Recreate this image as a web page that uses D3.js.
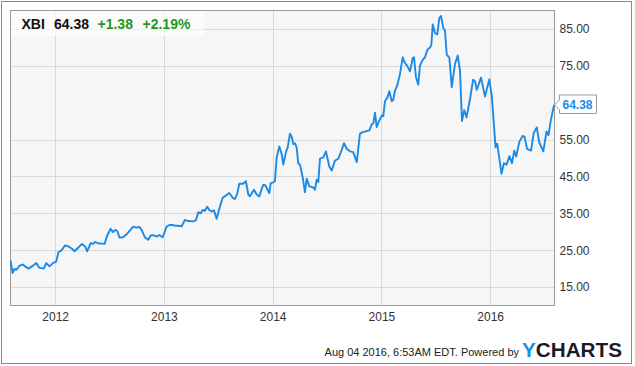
<!DOCTYPE html>
<html>
<head>
<meta charset="utf-8">
<script src="https://cdn.jsdelivr.net/npm/d3@7"></script>
<style>
  body { margin: 0; background: #fff; }
  svg text { font-family: "Liberation Sans", Arial, sans-serif; }
</style>
</head>
<body>
<div id="chart"></div>
<script>
// XBI, 5 ans de cours (temps en années décimales)
const ticker = "XBI";
const lastPrice = 64.38;
const change = "+1.38";
const changePct = "+2.19%";
const stamp = "Aug 04 2016, 6:53AM EDT.";

const tYear = [
  2011.590, 2011.608, 2011.626, 2011.645, 2011.672, 2011.703, 2011.733, 2011.755, 2011.786, 2011.825,
  2011.856, 2011.896, 2011.917, 2011.948, 2011.979, 2012.009, 2012.031, 2012.055, 2012.092, 2012.123,
  2012.154, 2012.178, 2012.209, 2012.246, 2012.276, 2012.294, 2012.326, 2012.347, 2012.368, 2012.393,
  2012.454, 2012.478, 2012.510, 2012.531, 2012.552, 2012.570, 2012.592, 2012.623, 2012.660, 2012.718,
  2012.749, 2012.773, 2012.795, 2012.825, 2012.856, 2012.878, 2012.902, 2012.933, 2012.957, 2012.988,
  2013.025, 2013.055, 2013.101, 2013.163, 2013.193, 2013.224, 2013.270, 2013.294, 2013.316, 2013.338,
  2013.356, 2013.377, 2013.398, 2013.417, 2013.439, 2013.460, 2013.485, 2013.509, 2013.540, 2013.570,
  2013.601, 2013.632, 2013.653, 2013.674, 2013.693, 2013.727, 2013.754, 2013.776, 2013.791, 2013.828,
  2013.853, 2013.877, 2013.899, 2013.914, 2013.932, 2013.950, 2013.969, 2013.982, 2014.006, 2014.021,
  2014.037, 2014.061, 2014.083, 2014.098, 2014.122, 2014.138, 2014.159, 2014.175, 2014.190, 2014.205,
  2014.221, 2014.235, 2014.251, 2014.276, 2014.297, 2014.313, 2014.337, 2014.368, 2014.389, 2014.405,
  2014.420, 2014.435, 2014.466, 2014.490, 2014.521, 2014.543, 2014.573, 2014.604, 2014.635, 2014.656,
  2014.681, 2014.711, 2014.741, 2014.773, 2014.803, 2014.828, 2014.865, 2014.889, 2014.911, 2014.926,
  2014.941, 2014.957, 2014.981, 2015.003, 2015.017, 2015.033, 2015.054, 2015.073, 2015.095, 2015.109,
  2015.125, 2015.146, 2015.171, 2015.196, 2015.217, 2015.238, 2015.263, 2015.288, 2015.300, 2015.318,
  2015.339, 2015.355, 2015.380, 2015.401, 2015.422, 2015.447, 2015.459, 2015.472, 2015.493, 2015.514,
  2015.533, 2015.548, 2015.569, 2015.585, 2015.601, 2015.625, 2015.647, 2015.677, 2015.702, 2015.723,
  2015.741, 2015.762, 2015.783, 2015.815, 2015.843, 2015.861, 2015.877, 2015.916, 2015.953, 2015.992,
  2016.015, 2016.050, 2016.065, 2016.105, 2016.126, 2016.151, 2016.178, 2016.201, 2016.222, 2016.240,
  2016.268, 2016.298, 2016.316, 2016.339, 2016.376, 2016.401, 2016.429, 2016.452, 2016.489, 2016.519,
  2016.537, 2016.558, 2016.588
];

const prices = [
  22.2, 18.8, 19.9, 19.7, 20.8, 21.1, 20.4, 20.0, 20.6, 21.5,
  20.2, 20.0, 21.5, 20.6, 21.5, 21.9, 24.5, 24.9, 26.3, 26.0,
  25.4, 24.7, 25.6, 26.7, 26.0, 24.7, 26.9, 26.7, 27.2, 26.9,
  26.7, 29.0, 30.8, 29.9, 30.5, 30.2, 28.4, 28.5, 29.4, 31.4,
  31.1, 31.3, 30.5, 28.5, 27.8, 29.0, 29.1, 28.7, 29.1, 28.5,
  31.4, 31.9, 31.7, 31.5, 33.2, 32.9, 32.8, 33.1, 35.3, 35.0,
  35.9, 35.7, 36.8, 35.9, 35.5, 35.8, 33.5, 36.2, 39.2, 39.8,
  40.5, 39.2, 38.9, 40.3, 43.0, 43.0, 43.7, 40.1, 39.6, 41.4,
  40.1, 39.6, 41.6, 42.7, 42.6, 41.6, 40.5, 43.2, 43.4, 43.7,
  50.2, 53.1, 51.1, 48.2, 51.6, 52.8, 56.6, 55.7, 53.8, 54.0,
  52.8, 48.6, 48.2, 44.8, 40.7, 44.4, 42.3, 42.1, 41.4, 44.1,
  43.5, 49.8, 50.2, 51.8, 47.7, 46.6, 49.3, 49.8, 52.2, 54.0,
  52.5, 51.8, 51.6, 48.9, 56.6, 57.0, 57.3, 57.5, 59.1, 59.4,
  62.3, 58.4, 60.2, 61.5, 61.3, 65.4, 66.3, 68.1, 65.4, 65.7,
  68.3, 69.7, 72.8, 77.3, 75.7, 75.0, 73.5, 77.1, 77.3, 71.9,
  69.9, 75.1, 76.6, 77.3, 79.3, 80.0, 80.5, 86.2, 83.9, 83.5,
  88.0, 88.5, 85.3, 84.5, 78.0, 77.2, 69.2, 75.5, 77.8, 73.7,
  60.0, 63.0, 61.0, 66.0, 71.2, 70.8, 68.5, 71.8, 66.7, 71.3,
  66.9, 52.9, 53.9, 45.7, 48.6, 48.2, 50.5, 48.6, 52.0, 50.4,
  54.3, 56.0, 55.8, 52.5, 52.0, 56.8, 58.3, 54.2, 51.8, 57.2,
  56.2, 60.2, 64.38
];

const yearTicks = [2012, 2013, 2014, 2015, 2016];
const priceTicks = [15, 25, 35, 45, 55, 75, 85];

const width = 635;
const height = 366;
const plot = { left: 10.5, top: 10.5, right: 554.5, bottom: 305.5 };

const blue = "#1b8ae6";
const green = "#1d9a1d";

const svg = d3.select("#chart")
  .append("svg")
  .attr("width", width)
  .attr("height", height);

// cadre extérieur
svg.append("rect")
  .attr("x", 1.5).attr("y", 1.5)
  .attr("width", 630).attr("height", 362)
  .attr("fill", "#fff")
  .attr("stroke", "#8a8a8a");

// échelles
const x = d3.scaleLinear()
  .domain([2011.589, 2016.592])
  .range([plot.left, plot.right]);

const y = d3.scaleLinear()
  .domain([10, 90])
  .range([plot.bottom, plot.top]);

// fond du graphique
svg.append("rect")
  .attr("x", plot.left).attr("y", plot.top)
  .attr("width", plot.right - plot.left)
  .attr("height", plot.bottom - plot.top)
  .attr("fill", "#f6f6f6");

// grille
svg.append("g")
  .selectAll("line")
  .data(priceTicks)
  .enter()
  .append("line")
  .attr("x1", plot.left).attr("x2", plot.right)
  .attr("y1", d => Math.round(y(d)) + 0.5)
  .attr("y2", d => Math.round(y(d)) + 0.5)
  .attr("stroke", "#d9d9d9");

svg.append("g")
  .selectAll("line")
  .data(yearTicks)
  .enter()
  .append("line")
  .attr("y1", plot.top).attr("y2", plot.bottom)
  .attr("x1", d => Math.round(x(d)) + 0.5)
  .attr("x2", d => Math.round(x(d)) + 0.5)
  .attr("stroke", "#d9d9d9");

// bordure du graphique
svg.append("rect")
  .attr("x", plot.left).attr("y", plot.top)
  .attr("width", plot.right - plot.left)
  .attr("height", plot.bottom - plot.top)
  .attr("fill", "none")
  .attr("stroke", "#9a9a9a");

// axes
const yAxis = svg.append("g")
  .attr("transform", "translate(" + plot.right + ",0)")
  .call(d3.axisRight(y).tickValues(priceTicks).tickSize(0).tickPadding(5).tickFormat(d3.format(".2f")));

const xAxis = svg.append("g")
  .attr("transform", "translate(0," + plot.bottom + ")")
  .call(d3.axisBottom(x).tickValues(yearTicks).tickSize(0).tickPadding(7).tickFormat(d3.format("d")));

[yAxis, xAxis].forEach(function(a){
  a.select(".domain").remove();
  a.selectAll("text")
    .attr("font-family", "Liberation Sans, Arial, sans-serif")
    .attr("font-size", 12)
    .attr("fill", "#333");
});

// courbe
const series = tYear.map((t, i) => ({ t: t, v: prices[i] }));

svg.append("path")
  .datum(series)
  .attr("fill", "none")
  .attr("stroke", blue)
  .attr("stroke-width", 1.9)
  .attr("stroke-linejoin", "round")
  .attr("d", d3.line().x(d => x(d.t)).y(d => y(d.v)));

// étiquette du dernier cours
const last = series[series.length - 1];
const ly = y(last.v);
const bx = plot.right + 5;
svg.append("path")
  .attr("d", "M" + plot.right + "," + ly +
             "L" + bx + "," + (ly - 5) +
             "V" + (ly - 10) + "H" + (bx + 37) + "V" + (ly + 8.5) +
             "H" + bx + "V" + (ly + 5) + "Z")
  .attr("fill", "#fff")
  .attr("stroke", "#9a9a9a");

svg.append("text")
  .attr("x", bx + 3)
  .attr("y", ly + 4)
  .attr("font-size", 12)
  .attr("font-weight", "bold")
  .attr("fill", blue)
  .text(d3.format(".2f")(last.v));

// bandeau du titre
svg.append("rect")
  .attr("x", plot.left + 0.5).attr("y", plot.top + 0.5)
  .attr("width", 193).attr("height", 25)
  .attr("fill", "#fff")
  .attr("opacity", 0.6);

const header = svg.append("text")
  .attr("y", 28.5)
  .attr("font-size", 14)
  .attr("font-weight", "bold");

header.append("tspan").attr("x", 21.5).attr("fill", "#111").text(ticker);
header.append("tspan").attr("x", 54).attr("fill", "#111").text(d3.format(".2f")(lastPrice));
header.append("tspan").attr("x", 97.5).attr("fill", green).text(change);
header.append("tspan").attr("x", 142.5).attr("fill", green).text(changePct);

// pied de page
svg.append("text")
  .attr("x", 519)
  .attr("y", 356)
  .attr("text-anchor", "end")
  .attr("font-size", 11)
  .attr("fill", "#222")
  .text(stamp + "  Powered by");

const logo = svg.append("text")
  .attr("x", 522)
  .attr("y", 357)
  .attr("font-size", 19.5)
  .attr("font-weight", "bold")
  .attr("textLength", 100)
  .attr("lengthAdjust", "spacingAndGlyphs");
logo.append("tspan").attr("fill", "#1a8fe3").text("Y");
logo.append("tspan").attr("fill", "#1b1b27").text("CHARTS");
</script>
</body>
</html>
